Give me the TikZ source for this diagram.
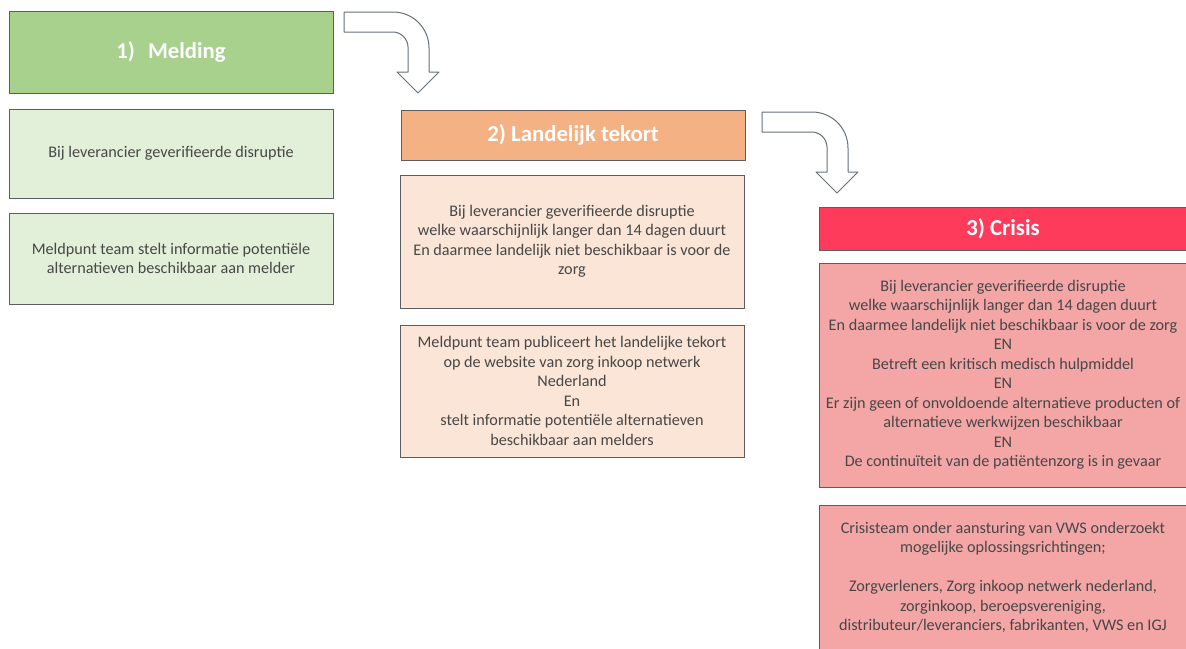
\documentclass[tikz,border=0pt]{standalone}
\usepackage{fontspec}
\setmainfont{Carlito}
\definecolor{bordergray}{HTML}{5A5E63}
\definecolor{arrowgray}{HTML}{66707A}
\definecolor{txtgray}{HTML}{474747}
\definecolor{greenhead}{HTML}{A9D18E}
\definecolor{greenbox}{HTML}{E2F0D9}
\definecolor{orangehead}{HTML}{F4B183}
\definecolor{orangebox}{HTML}{FBE5D6}
\definecolor{redhead}{HTML}{FF3B5C}
\definecolor{redbox}{HTML}{F4A6A6}
\begin{document}
\begin{tikzpicture}[x=1pt,y=-1pt,
  box/.style={draw=bordergray, line width=1pt, inner sep=0pt, align=center,
    text=txtgray, font=\fontsize{16.2}{19.5}\selectfont},
  headbox/.style={draw=bordergray, line width=1pt, inner sep=0pt, align=center,
    text=white},
  bentarrow/.style={draw=arrowgray, line width=1pt, fill=white, line join=round}]
\useasboundingbox (0,0) rectangle (1186,648);
\fill[white] (0,0) rectangle (1186,648);
\begin{scope}
\clip (0,0) rectangle (1186,648);
% column 1
\node[headbox, fill=greenhead, minimum width=324pt, minimum height=82pt,
  font=\fontsize{22.7}{26}\selectfont\bfseries] (h1) at (171,52) {1)\hspace{13pt}Melding};
\node[box, fill=greenbox, minimum width=324pt, minimum height=89pt] (b1a) at (171,153.5)
  {Bij leverancier geverifieerde disruptie};
\node[box, fill=greenbox, minimum width=324pt, minimum height=91pt] (b1b) at (171,258.5)
  {Meldpunt team stelt informatie potentiële\\alternatieven beschikbaar aan melder};
% column 2
\node[headbox, fill=orangehead, minimum width=344pt, minimum height=50pt,
  font=\fontsize{22.8}{25}\selectfont\bfseries] (h2) at (573,135) {2) Landelijk tekort};
\node[box, fill=orangebox, minimum width=344pt, minimum height=133pt] (b2a) at (572,241.5)
  {Bij leverancier geverifieerde disruptie\\welke waarschijnlijk langer dan 14 dagen duurt\\En daarmee landelijk niet beschikbaar is voor de\\zorg};
\node[box, fill=orangebox, minimum width=344pt, minimum height=132pt] (b2b) at (572,391)
  {Meldpunt team publiceert het landelijke tekort\\op de website van zorg inkoop netwerk\\Nederland\\En\\stelt informatie potentiële alternatieven\\beschikbaar aan melders};
% column 3
\node[headbox, fill=redhead, minimum width=368pt, minimum height=43pt,
  font=\fontsize{22.8}{25}\selectfont\bfseries] (h3) at (1003,228.5) {3) Crisis};
\node[box, fill=redbox, minimum width=368pt, minimum height=224pt] (b3a) at (1003,375)
  {Bij leverancier geverifieerde disruptie\\welke waarschijnlijk langer dan 14 dagen duurt\\En daarmee landelijk niet beschikbaar is voor de zorg\\EN\\Betreft een kritisch medisch hulpmiddel\\EN\\Er zijn geen of onvoldoende alternatieve producten of\\alternatieve werkwijzen beschikbaar\\EN\\De continuïteit van de patiëntenzorg is in gevaar};
\node[box, fill=redbox, minimum width=368pt, minimum height=145pt] (b3b) at (1003,577.5)
  {Crisisteam onder aansturing van VWS onderzoekt\\mogelijke oplossingsrichtingen;\\[19.5pt]Zorgverleners, Zorg inkoop netwerk nederland,\\zorginkoop, beroepsvereniging,\\distributeur/leveranciers, fabrikanten, VWS en IGJ};
\end{scope}
% bent arrows
\draw[bentarrow] (344,12) -- (393,12) .. controls (413,12) and (429,28) .. (429,48)
  -- (429,72) -- (439,72) -- (418,93) -- (397,72) -- (408,72) -- (408,47)
  .. controls (408,39) and (401,32) .. (393,32) -- (344,32) -- cycle;
\draw[bentarrow] (762,112) -- (812,112) .. controls (832,112) and (848,128) .. (848,148)
  -- (848,172) -- (858,172) -- (837,193) -- (816,172) -- (827,172) -- (827,147)
  .. controls (827,139) and (820,132) .. (812,132) -- (762,132) -- cycle;
\end{tikzpicture}
\end{document}
